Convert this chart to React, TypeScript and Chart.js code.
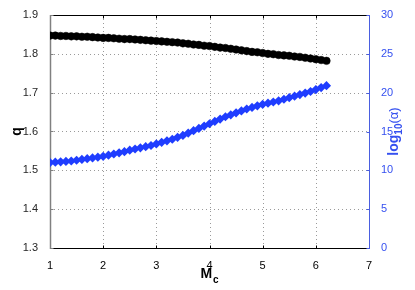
import React, { useEffect, useRef } from "react";
import { Chart, registerables } from "chart.js";

Chart.register(...registerables);

const mcValues = [
  1.0, 1.1, 1.2, 1.3, 1.4, 1.5, 1.6, 1.7, 1.8, 1.9,
  2.0, 2.1, 2.2, 2.3, 2.4, 2.5, 2.6, 2.7, 2.8, 2.9,
  3.0, 3.1, 3.2, 3.3, 3.4, 3.5, 3.6, 3.7, 3.8, 3.9,
  4.0, 4.1, 4.2, 4.3, 4.4, 4.5, 4.6, 4.7, 4.8, 4.9,
  5.0, 5.1, 5.2, 5.3, 5.4, 5.5, 5.6, 5.7, 5.8, 5.9,
  6.0, 6.1, 6.2,
];

const qValues = [
  1.847, 1.847, 1.846, 1.846, 1.845, 1.845, 1.844, 1.844, 1.843, 1.842,
  1.841, 1.841, 1.840, 1.839, 1.838, 1.838, 1.837, 1.836, 1.835, 1.834,
  1.833, 1.832, 1.831, 1.830, 1.829, 1.827, 1.826, 1.824, 1.823, 1.821,
  1.820, 1.818, 1.816, 1.815, 1.813, 1.811, 1.809, 1.807, 1.805, 1.804,
  1.802, 1.800, 1.799, 1.797, 1.796, 1.795, 1.793, 1.792, 1.790, 1.788,
  1.786, 1.784, 1.782,
];

const logAlphaValues = [
  11.0, 11.05, 11.1, 11.15, 11.2, 11.3, 11.4, 11.5, 11.6, 11.7,
  11.8, 11.95, 12.1, 12.25, 12.4, 12.6, 12.75, 12.9, 13.05, 13.2,
  13.4, 13.6, 13.8, 14.0, 14.25, 14.5, 14.8, 15.1, 15.4, 15.7,
  16.0, 16.3, 16.6, 16.9, 17.15, 17.4, 17.65, 17.9, 18.1, 18.3,
  18.5, 18.65, 18.8, 18.95, 19.15, 19.35, 19.55, 19.75, 19.95, 20.15,
  20.4, 20.65, 20.9,
];

const xTicks = [1, 2, 3, 4, 5, 6, 7];
const qTicks = [1.3, 1.4, 1.5, 1.6, 1.7, 1.8, 1.9];
const alphaTicks = [0, 5, 10, 15, 20, 25, 30];

const FONT = "'Liberation Sans', Arial, Helvetica, sans-serif";
const BLUE = "#1f3dff";
const BLUE_AXIS = "#4a5ee0";
const BLUE_TEXT = "#3550f0";

const decorPlugin = {
  id: "decor",
  beforeDatasetsDraw(chart: any) {
    const { ctx, chartArea } = chart;
    const { left, right, top, bottom } = chartArea;
    const sx = chart.scales.x;
    const sy = chart.scales.y;
    ctx.save();
    // dotted grid
    ctx.strokeStyle = "#9a9a9a";
    ctx.lineWidth = 1;
    ctx.setLineDash([1, 3]);
    xTicks.forEach((v) => {
      const px = Math.round(sx.getPixelForValue(v)) + 0.5;
      if (px <= left + 1 || px >= right - 1) return;
      ctx.beginPath();
      ctx.moveTo(px, top);
      ctx.lineTo(px, bottom);
      ctx.stroke();
    });
    qTicks.forEach((v) => {
      const py = Math.round(sy.getPixelForValue(v)) + 0.5;
      if (py <= top + 1 || py >= bottom - 1) return;
      ctx.beginPath();
      ctx.moveTo(left, py);
      ctx.lineTo(right, py);
      ctx.stroke();
    });
    ctx.setLineDash([]);
    // spines
    const L = Math.round(left) + 0.5;
    const R = Math.round(right) + 0.5;
    const T = Math.round(top) + 0.5;
    const B = Math.round(bottom) + 0.5;
    ctx.lineWidth = 1;
    ctx.strokeStyle = "#000";
    ctx.beginPath();
    ctx.moveTo(L, B);
    ctx.lineTo(R, B);
    ctx.moveTo(L, T);
    ctx.lineTo(R, T);
    ctx.stroke();
    // inward ticks on x
    xTicks.forEach((v) => {
      const px = Math.round(sx.getPixelForValue(v)) + 0.5;
      ctx.beginPath();
      ctx.moveTo(px, B);
      ctx.lineTo(px, B - 3);
      ctx.moveTo(px, T);
      ctx.lineTo(px, T + 3);
      ctx.stroke();
    });
    ctx.strokeStyle = "#808080";
    ctx.lineWidth = 1.5;
    ctx.beginPath();
    ctx.moveTo(L, T - 0.5);
    ctx.lineTo(L, B + 0.5);
    ctx.stroke();
    ctx.lineWidth = 1;
    qTicks.forEach((v) => {
      const py = Math.round(sy.getPixelForValue(v)) + 0.5;
      ctx.beginPath();
      ctx.moveTo(L, py);
      ctx.lineTo(L + 3, py);
      ctx.stroke();
    });
    ctx.strokeStyle = BLUE_AXIS;
    ctx.beginPath();
    ctx.moveTo(R, T - 0.5);
    ctx.lineTo(R, B + 0.5);
    ctx.stroke();
    const sy1 = chart.scales.y1;
    alphaTicks.forEach((v) => {
      const py = Math.round(sy1.getPixelForValue(v)) + 0.5;
      ctx.beginPath();
      ctx.moveTo(R, py);
      ctx.lineTo(R - 3, py);
      ctx.stroke();
    });
    ctx.restore();
  },
  afterDraw(chart: any) {
    const { ctx, chartArea } = chart;
    const { left, right, top, bottom } = chartArea;
    const midY = (top + bottom) / 2;
    ctx.save();
    // q label
    ctx.fillStyle = "#000";
    ctx.font = `bold 14px ${FONT}`;
    ctx.textAlign = "center";
    ctx.textBaseline = "middle";
    ctx.translate(17, midY);
    ctx.rotate(-Math.PI / 2);
    ctx.fillText("q", 0, 0);
    ctx.restore();

    // M_c label
    ctx.save();
    ctx.fillStyle = "#000";
    ctx.textBaseline = "alphabetic";
    ctx.textAlign = "left";
    ctx.font = `bold 14px ${FONT}`;
    const mW = ctx.measureText("M").width;
    ctx.font = `bold 10px ${FONT}`;
    const cW = ctx.measureText("c").width;
    const total = mW + cW + 1;
    const cx = (left + right) / 2;
    const x0 = cx - total / 2;
    ctx.font = `bold 14px ${FONT}`;
    ctx.fillText("M", x0, 278);
    ctx.font = `bold 10px ${FONT}`;
    ctx.fillText("c", x0 + mW + 1, 283);
    ctx.restore();

    // log10(α) label
    ctx.save();
    ctx.fillStyle = BLUE_TEXT;
    ctx.textBaseline = "alphabetic";
    ctx.textAlign = "left";
    ctx.font = `bold 14px ${FONT}`;
    const logW = ctx.measureText("log").width;
    ctx.font = `bold 10px ${FONT}`;
    const subW = ctx.measureText("10").width;
    ctx.font = `13px ${FONT}`;
    const parW = ctx.measureText("(α)").width;
    const tw = logW + subW + parW;
    ctx.translate(397, midY);
    ctx.rotate(-Math.PI / 2);
    let tx = -tw / 2;
    ctx.font = `bold 14px ${FONT}`;
    ctx.fillText("log", tx, 1);
    tx += logW;
    ctx.font = `bold 10px ${FONT}`;
    ctx.fillText("10", tx, 5);
    tx += subW;
    ctx.font = `13px ${FONT}`;
    ctx.fillText("(α)", tx, 1);
    ctx.restore();
  },
};

export default function App() {
  const ref = useRef<HTMLCanvasElement>(null);

  useEffect(() => {
    const canvas = ref.current;
    if (!canvas) return;
    const chart = new Chart(canvas, {
      type: "scatter",
      data: {
        datasets: [
          {
            label: "q",
            data: mcValues.map((x, i) => ({ x, y: qValues[i] })),
            yAxisID: "y",
            pointStyle: "circle",
            pointRadius: 3.8,
            pointBorderWidth: 0.5,
            backgroundColor: "#000",
            borderColor: "#000",
            showLine: false,
          },
          {
            label: "log10(α)",
            data: mcValues.map((x, i) => ({ x, y: logAlphaValues[i] })),
            yAxisID: "y1",
            pointStyle: "rectRot",
            pointRadius: 4.6,
            pointBorderWidth: 0,
            backgroundColor: BLUE,
            borderColor: BLUE,
            showLine: false,
          },
        ],
      },
      options: {
        responsive: false,
        animation: false,
        layout: { padding: { top: 15, left: 0, right: 0, bottom: 0 } },
        plugins: {
          legend: { display: false },
          tooltip: { enabled: false },
        },
        scales: {
          x: {
            type: "linear",
            position: "bottom",
            min: 1,
            max: 7,
            afterBuildTicks: (s: any) => {
              s.ticks = xTicks.map((v) => ({ value: v }));
            },
            afterFit: (s: any) => {
              s.height = 42;
            },
            grid: { display: false },
            border: { display: false },
            ticks: {
              color: "#000",
              font: { family: FONT, size: 11 },
              padding: 3,
              maxRotation: 0,
              autoSkip: false,
              callback: (v: any) => String(v),
            },
          },
          y: {
            type: "linear",
            position: "left",
            min: 1.3,
            max: 1.9,
            afterBuildTicks: (s: any) => {
              s.ticks = qTicks.map((v) => ({ value: v }));
            },
            afterFit: (s: any) => {
              s.width = 50;
            },
            grid: { display: false },
            border: { display: false },
            ticks: {
              color: "#262626",
              font: { family: FONT, size: 11 },
              padding: 4,
              autoSkip: false,
              callback: (v: any) => Number(v).toFixed(1),
            },
          },
          y1: {
            type: "linear",
            position: "right",
            min: 0,
            max: 30,
            afterBuildTicks: (s: any) => {
              s.ticks = alphaTicks.map((v) => ({ value: v }));
            },
            afterFit: (s: any) => {
              s.width = 46;
            },
            grid: { display: false },
            border: { display: false },
            ticks: {
              color: BLUE_TEXT,
              font: { family: FONT, size: 11 },
              padding: 4,
              autoSkip: false,
              callback: (v: any) => String(v),
            },
          },
        },
      },
      plugins: [decorPlugin],
    } as any);
    return () => chart.destroy();
  }, []);

  return (
    <div style={{ position: "fixed", left: 0, top: 0, width: 415, height: 290, background: "#fff" }}>
      <canvas ref={ref} width={415} height={290} style={{ width: 415, height: 290, display: "block" }} />
    </div>
  );
}
